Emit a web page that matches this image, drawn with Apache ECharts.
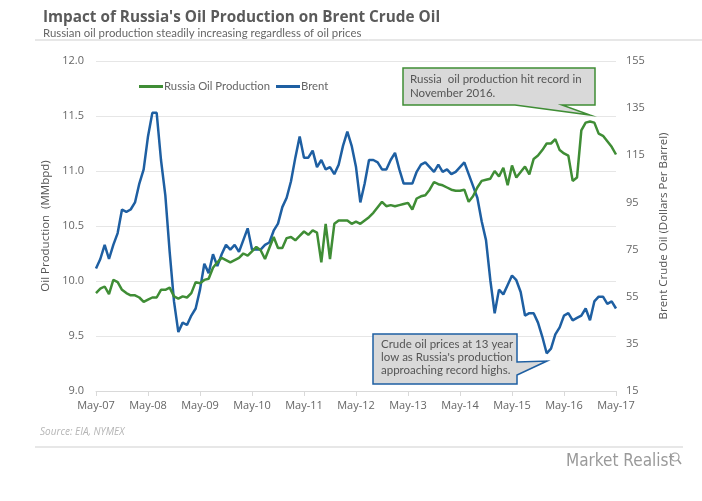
<!DOCTYPE html>
<html><head><meta charset="utf-8">
<script src="https://cdn.jsdelivr.net/npm/echarts@6/dist/echarts.min.js"></script>
<style>html,body{margin:0;padding:0;background:#fff}#c{width:702px;height:501px}</style>
</head><body><div id="c"></div>
<script>
// Month categories May-07 .. May-17
const monthNames = ['Jan','Feb','Mar','Apr','May','Jun','Jul','Aug','Sep','Oct','Nov','Dec'];
const categories = [];
for (let i = 0; i < 121; i++) {
  const m = (4 + i) % 12, y = 7 + Math.floor((4 + i) / 12);
  categories.push(monthNames[m] + '-' + String(y).padStart(2, '0'));
}
const russiaProduction = [
  9.89, 9.93, 9.95, 9.88, 10.01, 9.99, 9.92, 9.89, 9.87, 9.87, 9.85, 9.81,
  9.83, 9.85, 9.85, 9.92, 9.92, 9.94, 9.86, 9.84, 9.86, 9.85, 9.89, 9.99,
  9.98, 10.01, 10.02, 10.12, 10.17, 10.21, 10.19, 10.17, 10.19, 10.21, 10.25, 10.23,
  10.27, 10.31, 10.28, 10.20, 10.30, 10.40, 10.30, 10.30, 10.39, 10.40, 10.37, 10.41,
  10.45, 10.42, 10.46, 10.44, 10.17, 10.52, 10.20, 10.52, 10.55, 10.55, 10.55, 10.52,
  10.54, 10.52, 10.55, 10.58, 10.62, 10.67, 10.72, 10.68, 10.69, 10.68, 10.69, 10.70,
  10.71, 10.65, 10.75, 10.77, 10.78, 10.83, 10.90, 10.88, 10.87, 10.85, 10.83, 10.82,
  10.82, 10.83, 10.72, 10.77, 10.85, 10.91, 10.92, 10.93, 11.00, 10.95, 11.03, 10.87,
  11.05, 10.94, 10.99, 11.04, 10.97, 11.11, 11.14, 11.19, 11.25, 11.25, 11.29, 11.19,
  11.16, 11.14, 10.91, 10.94, 11.37, 11.44, 11.45, 11.44, 11.34, 11.32, 11.27, 11.22,
  11.15
];
const brentPrice = [
  67, 71, 77, 71, 77, 82, 92, 91, 92, 95, 103, 109,
  123, 133, 133, 113, 98, 74, 53, 40, 44, 43, 47, 50,
  58, 69, 65, 73, 68, 73, 77, 75, 77, 74, 79, 84,
  75, 75, 75, 77, 78, 83, 86, 93, 97, 104, 114, 123,
  114, 114, 117, 110, 113, 109, 110, 107, 111, 119, 125, 119,
  110, 95, 103, 113, 113, 112, 109, 109, 113, 116, 109, 103,
  103, 103, 108, 111, 112, 110, 108, 111, 108, 109, 107, 108,
  110, 112, 107, 102, 97, 87, 79, 62, 48, 58, 56, 60,
  64, 62, 57, 47, 48, 48, 44, 38, 31, 33, 39, 42,
  47, 48, 45, 46, 47, 50, 45, 53, 55, 55, 52, 53,
  50
];
const leftTicks = [9.0, 9.5, 10.0, 10.5, 11.0, 11.5, 12.0];
const rightTicks = [15, 35, 55, 75, 95, 115, 135, 155];

const GREEN = '#3f8d35', BLUE = '#1e5fa2', FONT = '"Open Sans", sans-serif', NARROW = 'Lato, "Open Sans", sans-serif';
const chart = echarts.init(document.getElementById('c'));
chart.setOption({
  backgroundColor: '#fff',
  animation: false,
  textStyle: { fontFamily: FONT },
  title: {
    text: "Impact of Russia's Oil Production on Brent Crude Oil",
    subtext: 'Russian oil production steadily increasing regardless of oil prices',
    left: 38, top: 5, itemGap: 3,
    textStyle: { fontFamily: FONT, fontSize: 15.3, fontWeight: 'bold', color: '#5a5a5a' },
    subtextStyle: { fontFamily: NARROW, fontSize: 11.4, color: '#666' }
  },
  legend: {
    left: 139, top: 81, padding: 0, itemWidth: 24, itemHeight: 3, itemGap: 6,
    icon: 'rect',
    textStyle: { fontFamily: NARROW, fontSize: 11.3, color: '#666', padding: [0, 0, 0, -4] },
    data: ['Russia Oil Production', 'Brent']
  },
  grid: { left: 96, right: 86, top: 61, bottom: 110 },
  xAxis: {
    type: 'category', data: categories, boundaryGap: false,
    axisLine: { lineStyle: { color: '#d9d9d9' } },
    axisTick: { interval: 11, lineStyle: { color: '#d9d9d9' }, length: 5 },
    axisLabel: { interval: 11, color: '#666', fontSize: 11, margin: 9 }
  },
  yAxis: [
    {
      type: 'value', min: leftTicks[0], max: leftTicks[leftTicks.length - 1], interval: 0.5,
      name: 'Oil Production  (MMbpd)', nameLocation: 'middle', nameGap: 44,
      nameTextStyle: { color: '#555', fontSize: 11.5 },
      axisLine: { show: false }, axisTick: { show: false },
      axisLabel: { color: '#666', fontSize: 11, margin: 12, formatter: v => v.toFixed(1) },
      splitLine: { lineStyle: { color: '#e6e6e6' } }
    },
    {
      type: 'value', min: rightTicks[0], max: rightTicks[rightTicks.length - 1], interval: 20,
      name: 'Brent Crude Oil (Dollars Per Barrel)', nameLocation: 'middle', nameGap: 42,
      nameTextStyle: { color: '#555', fontSize: 11.5 },
      axisLine: { show: false }, axisTick: { show: false },
      axisLabel: { color: '#666', fontSize: 11, margin: 10 },
      splitLine: { show: false }
    }
  ],
  series: [
    { name: 'Russia Oil Production', type: 'line', yAxisIndex: 0, data: russiaProduction,
      symbol: 'none', color: GREEN, lineStyle: { width: 2.5, color: GREEN }, z: 3 },
    { name: 'Brent', type: 'line', yAxisIndex: 1, data: brentPrice,
      symbol: 'none', color: BLUE, lineStyle: { width: 2.5, color: BLUE }, z: 2 }
  ],
  graphic: [
    { type: 'line', shape: { x1: 35, y1: 40, x2: 702, y2: 40 }, style: { stroke: '#cfcfcf', lineWidth: 1 } },
    { type: 'line', shape: { x1: 35, y1: 447, x2: 683, y2: 447 }, style: { stroke: '#cfcfcf', lineWidth: 1 } },
    { type: 'text', left: 40, top: 427, style: { text: 'Source: EIA, NYMEX', fill: '#b5b5b5', font: 'italic 10px ' + FONT } },
    { type: 'text', left: 566, top: 453, style: { text: 'Market Realist', fill: '#9a9a9a', font: '17px "Liberation Sans Narrow", "DejaVu Sans Condensed", sans-serif' } },
    { type: 'circle', shape: { cx: 675, cy: 457, r: 4 }, style: { stroke: '#9a9a9a', fill: 'none', lineWidth: 1.2 } },
    { type: 'line', shape: { x1: 678, y1: 460, x2: 681, y2: 464 }, style: { stroke: '#9a9a9a', lineWidth: 1.5 } },
    // Annotation 1
    { type: 'polygon', z: 10,
      shape: { points: [[403, 68], [595, 68], [595, 105], [562, 105], [590, 115], [515, 105], [403, 105]] },
      style: { fill: '#d9d9d9', stroke: GREEN, lineWidth: 1.5 } },
    { type: 'text', z: 11, left: 410, top: 72,
      style: { text: 'Russia  oil production hit record in\nNovember 2016.', fill: '#555', font: '11.5px ' + NARROW, lineHeight: 14 } },
    // Annotation 2
    { type: 'polygon', z: 10,
      shape: { points: [[373, 334], [517, 334], [517, 362], [547, 361], [517, 375], [517, 384], [373, 384]] },
      style: { fill: '#d9d9d9', stroke: BLUE, lineWidth: 1.5 } },
    { type: 'text', z: 11, left: 381, top: 338,
      style: { text: "Crude oil prices at 13 year\nlow as Russia's production\napproaching record highs.", fill: '#555', font: '11.5px ' + NARROW, lineHeight: 13 } }
  ]
});
</script></body></html>
